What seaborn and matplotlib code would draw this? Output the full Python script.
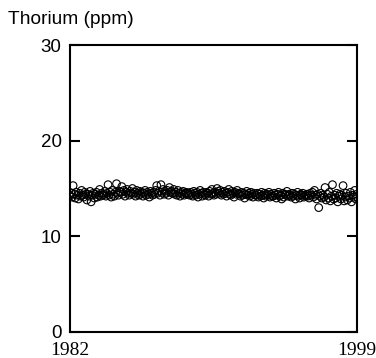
import matplotlib.pyplot as plt
import seaborn as sns
import pandas as pd

sns.set_style('white')
plt.rcParams['text.color'] = 'black'
plt.rcParams['xtick.color'] = 'black'
plt.rcParams['ytick.color'] = 'black'

# thorium concentration (ppm), one row per year of sampling
thorium = [
    14.2, 14.5, 14.1, 15.3, 14.4, 14.0, 14.6, 14.3, 13.9, 14.5, 14.2, 14.8, 14.3, 14.1, 14.6, 14.4,
    13.8, 14.4, 14.2, 14.7, 13.6, 14.3, 14.5, 14.0, 14.4, 14.6, 14.1, 14.3, 14.9, 14.2, 14.5, 14.3,
    14.4, 14.7, 14.2, 14.5, 15.4, 14.3, 14.6, 14.1, 14.8, 14.4, 14.2, 14.6, 15.5, 14.5, 14.3, 14.7,
    14.6, 15.2, 14.4, 14.8, 14.2, 14.6, 14.9, 14.5, 14.3, 14.7, 14.5, 15.0, 14.4, 14.6, 14.2, 14.8,
    14.5, 14.3, 14.7, 14.4, 14.6, 14.2, 14.5, 14.8, 14.3, 14.6, 14.4, 14.1, 14.7, 14.5, 14.3, 14.6,
    14.4, 14.8, 15.3, 14.5, 14.7, 14.3, 15.4, 14.6, 14.9, 14.4, 14.7, 14.5, 14.8, 14.3, 15.1, 14.6,
    14.7, 14.5, 14.9, 14.4, 14.6, 14.3, 14.8, 14.5, 14.2, 14.6, 14.4, 14.7, 14.3, 14.5, 14.6, 14.4,
    14.5, 14.3, 14.6, 14.4, 14.2, 14.7, 14.5, 14.3, 14.6, 14.1, 14.4, 14.8, 14.5, 14.2, 14.6, 14.4,
    14.3, 14.6, 14.5, 14.2, 14.7, 14.4, 14.9, 14.5, 14.3, 14.6, 14.4, 15.0, 14.7, 14.5, 14.8, 14.3,
    14.6, 14.4, 14.7, 14.5, 14.2, 14.6, 14.9, 14.4, 14.3, 14.7, 14.5, 14.1, 14.6, 14.4, 14.8, 14.5,
    14.4, 14.2, 14.6, 14.3, 14.5, 14.0, 14.4, 14.7, 14.3, 14.5, 14.2, 14.6, 14.4, 14.1, 14.5, 14.3,
    14.3, 14.5, 14.1, 14.4, 14.2, 14.6, 14.3, 14.0, 14.5, 14.2, 14.4, 14.3, 14.6, 14.1, 14.4, 14.2,
    14.2, 14.5, 14.3, 14.0, 14.4, 14.6, 14.2, 14.3, 13.9, 14.5, 14.1, 14.4, 14.3, 14.7, 14.2, 14.4,
    14.3, 14.1, 14.5, 14.2, 14.4, 13.9, 14.3, 14.6, 14.2, 14.0, 14.4, 14.3, 14.5, 14.1, 14.3, 14.2,
    14.4, 14.2, 14.0, 14.5, 14.3, 14.6, 14.1, 14.8, 14.3, 13.9, 14.4, 13.0, 14.2, 14.5, 14.0, 14.3,
    14.1, 15.1, 13.8, 14.4, 14.0, 14.6, 13.7, 14.2, 15.4, 13.9, 14.3, 14.0, 14.5, 13.6, 14.2, 14.4,
    13.9, 14.3, 15.3, 13.7, 14.1, 14.5, 13.8, 14.2, 14.0, 14.6, 13.6, 14.3, 14.1, 14.8, 13.9, 14.4,
]
start, end = '1982-01-01', '1999-01-01'
year_labels = ['1982', '1999']
y_ticks = [0, 10, 20, 30]

df = pd.DataFrame({
    'date': pd.date_range(start, end, periods=len(thorium)),
    'thorium': thorium,
})

fig = plt.figure(figsize=(3.76, 3.58), dpi=100)
ax = fig.add_axes([0.186, 0.073, 0.763, 0.801])
sns.scatterplot(data=df, x='date', y='thorium', ax=ax, s=30,
                facecolor='none', edgecolor='black', linewidth=0.8, legend=False)

ax.set_xlim(pd.Timestamp(start), pd.Timestamp(end))
ax.set_ylim(0, 30)
ax.set_xticks([pd.Timestamp(start), pd.Timestamp(end)])
ax.set_xticklabels(year_labels, family='Liberation Serif', fontsize=14)
ax.set_yticks(y_ticks)
ax.set_yticklabels([str(t) for t in y_ticks], family='Liberation Sans', fontsize=13.5)
ax.tick_params(axis='x', length=0, pad=7)
ax.tick_params(axis='y', direction='in', length=7, width=1.5, left=True, right=True, pad=6)
ax.set_xlabel('')
ax.set_ylabel('')
for sp in ax.spines.values():
    sp.set_linewidth(1.5)
    sp.set_color('black')

fig.text(0.021, 0.945, 'Thorium (ppm)', family='Liberation Sans', fontsize=13.8, va='center')

fig.savefig('out.png', dpi=100)
